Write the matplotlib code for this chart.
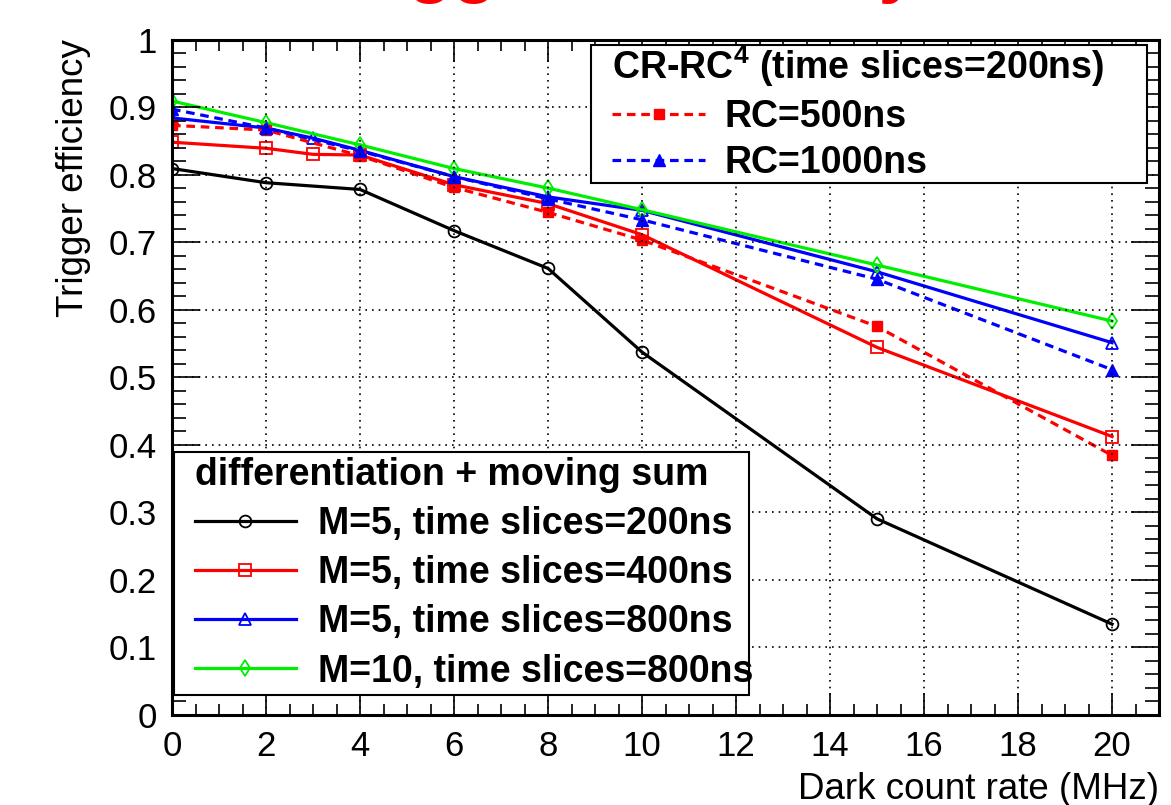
import matplotlib
matplotlib.use('Agg')
import matplotlib.pyplot as plt
from matplotlib.patches import Rectangle
from matplotlib.ticker import MultipleLocator, FormatStrFormatter

plt.rcParams['font.family'] = ['Liberation Sans', 'DejaVu Sans']
plt.rcParams['mathtext.fontset'] = 'custom'
plt.rcParams['mathtext.rm'] = 'Liberation Sans'
plt.rcParams['mathtext.bf'] = 'Liberation Sans:bold'

# dark count rate (MHz)
x_m5_200 = [0, 2, 4, 6, 8, 10, 15, 20]
eff_m5_200 = [0.809, 0.788, 0.778, 0.717, 0.661, 0.537, 0.290, 0.134]

x_m5_400 = [0, 2, 3, 4, 6, 8, 10, 15, 20]
eff_m5_400 = [0.848, 0.839, 0.830, 0.829, 0.785, 0.757, 0.711, 0.544, 0.412]

x_m5_800 = [0, 2, 3, 4, 6, 8, 10, 15, 20]
eff_m5_800 = [0.884, 0.869, 0.854, 0.836, 0.797, 0.767, 0.747, 0.656, 0.551]

x_m10_800 = [0, 2, 4, 6, 8, 10, 15, 20]
eff_m10_800 = [0.909, 0.877, 0.844, 0.809, 0.780, 0.748, 0.666, 0.583]

x_rc500 = [0, 2, 4, 6, 8, 10, 15, 20]
eff_rc500 = [0.873, 0.866, 0.828, 0.781, 0.744, 0.703, 0.575, 0.384]

x_rc1000 = [0, 2, 4, 6, 8, 10, 15, 20]
eff_rc1000 = [0.897, 0.869, 0.835, 0.797, 0.764, 0.733, 0.645, 0.511]

fs = 27
dash = (0, (2.7, 1.8))

fig = plt.figure(figsize=(11.71, 8.05), dpi=100)
ax = fig.add_axes([0.1469, 0.1123, 0.8429, 0.8385])

l1, = ax.plot(x_m5_200, eff_m5_200, color='black', lw=2.3, marker='o', ms=8.5,
              mfc='none', mec='black', mew=1.3, label='M=5, time slices=200ns')
l2, = ax.plot(x_m5_400, eff_m5_400, color='red', lw=2.3, marker='s', ms=8.5,
              mfc='none', mec='red', mew=1.3, label='M=5, time slices=400ns')
l3, = ax.plot(x_m5_800, eff_m5_800, color='blue', lw=2.3, marker='^', ms=9,
              mfc='none', mec='blue', mew=1.3, label='M=5, time slices=800ns')
l4, = ax.plot(x_m10_800, eff_m10_800, color='#00ee00', lw=2.3, marker='d', ms=8,
              mfc='none', mec='#00ee00', mew=1.3, label='M=10, time slices=800ns')
d1, = ax.plot(x_rc500, eff_rc500, color='red', lw=2.3, ls=dash, marker='s', ms=7.5,
              mfc='red', mec='red', label='RC=500ns')
d2, = ax.plot(x_rc1000, eff_rc1000, color='blue', lw=2.3, ls=dash, marker='^', ms=8,
              mfc='blue', mec='blue', label='RC=1000ns')

ax.set_xlim(0, 21)
ax.set_ylim(0, 1)
ax.xaxis.set_major_locator(MultipleLocator(2))
ax.xaxis.set_minor_locator(MultipleLocator(0.5))
ax.yaxis.set_major_locator(MultipleLocator(0.1))
ax.yaxis.set_minor_locator(MultipleLocator(0.02))
ax.yaxis.set_major_formatter(FormatStrFormatter('%g'))
ax.tick_params(which='both', direction='in', top=True, right=True, labelsize=25, width=1.2)
ax.tick_params(axis='x', which='major', length=16, pad=11)
ax.tick_params(axis='x', which='minor', length=8)
ax.tick_params(axis='y', which='major', length=20, pad=11)
ax.tick_params(axis='y', which='minor', length=10)
for s in ax.spines.values():
    s.set_linewidth(2.2)
ax.grid(True, which='major', color='black', ls=(0, (1, 3)), lw=1.2)
ax.set_axisbelow(False)

ax.text(-0.1003, 1.0, 'Trigger efficiency', rotation=90, ha='center', va='top',
        fontsize=26.5, transform=ax.transAxes)
ax.text(1.0, -0.111, 'Dark count rate (MHz)', ha='right', va='center',
        fontsize=26.5, transform=ax.transAxes)

# legend frames
ax.add_patch(Rectangle((0.4245, 0.7876), 0.5633, 0.2044, transform=ax.transAxes,
                       facecolor='white', edgecolor='black', lw=1.5, zorder=4.5))
ax.add_patch(Rectangle((0.002, 0.029), 0.5826, 0.36, transform=ax.transAxes,
                       facecolor='white', edgecolor='black', lw=1.5, zorder=4.5))

leg1 = ax.legend(handles=[d1, d2], title=r'CR-RC$^{\mathbf{4}}$ (time slices=200ns)',
                 loc='upper left', bbox_to_anchor=(0.4458, 0.9950), frameon=False,
                 borderpad=0, borderaxespad=0, labelspacing=0.27, handlelength=2.48,
                 handletextpad=0.53, numpoints=1, alignment='left',
                 prop={'size': fs, 'weight': 'bold'},
                 title_fontproperties={'size': fs, 'weight': 'bold'})
ax.add_artist(leg1)
leg2 = ax.legend(handles=[l1, l2, l3, l4], title='differentiation + moving sum',
                 loc='upper left', bbox_to_anchor=(0.0233, 0.3815), frameon=False,
                 borderpad=0, borderaxespad=0, labelspacing=0.35, handlelength=2.69,
                 handletextpad=0.59, numpoints=1, alignment='left',
                 prop={'size': fs, 'weight': 'bold'},
                 title_fontproperties={'size': fs, 'weight': 'bold'})

# big page title, mostly cut off by the top edge as in the original
fig.text(619 / 1171, 1 + 11 / 805, 'Trigger efficiency', color='red', fontsize=52,
         fontweight='bold', ha='center', va='baseline')

fig.savefig('out.png', dpi=100)
